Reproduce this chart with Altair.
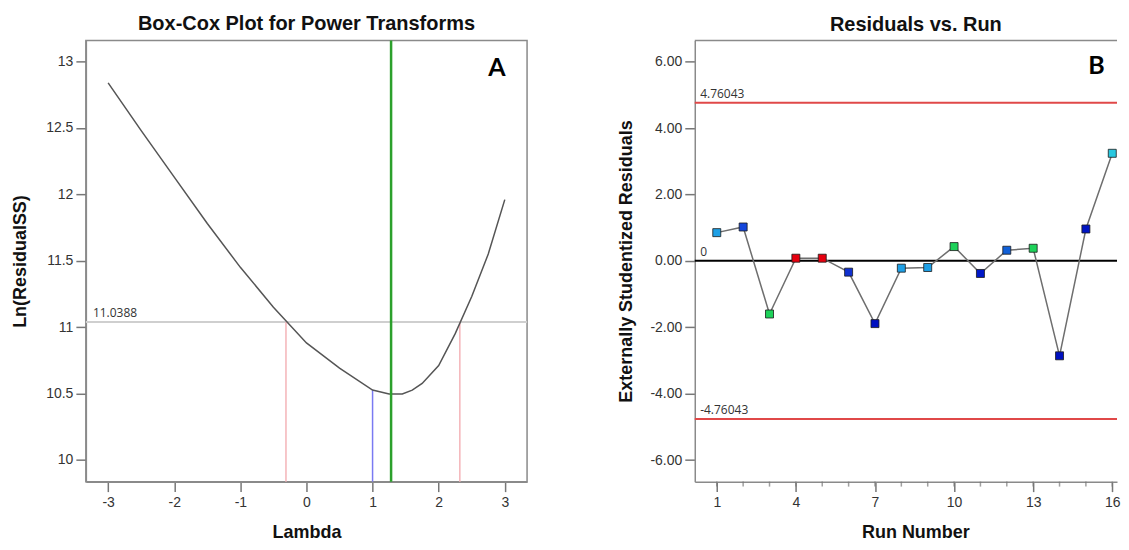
import altair as alt
import pandas as pd

# ---------------- data ----------------
# Panel A: Box-Cox curve
lam = [-3, -2.5, -2, -1.5, -1, -0.5, 0, 0.5, 1, 1.25, 1.45, 1.6, 1.75, 2, 2.25, 2.5, 2.75, 3]
ln_ss = [12.84, 12.48, 12.13, 11.78, 11.45, 11.15, 10.88, 10.69, 10.525, 10.495, 10.495,
         10.525, 10.575, 10.71, 10.95, 11.23, 11.55, 11.96]
ci_level = 11.0388
ci_bounds = [-0.31, 2.32]
lam_best = 1.28
lam_current = 1.0
ln_at_current = 10.525
lam_ticks = [-3, -2, -1, 0, 1, 2, 3]
ln_ticks = [10, 10.5, 11, 11.5, 12, 12.5, 13]

# Panel B: residuals vs run
runs = list(range(1, 17))
resid = [0.85, 1.02, -1.60, 0.08, 0.08, -0.34, -1.89, -0.22, -0.20, 0.43, -0.38,
         0.32, 0.38, -2.86, 0.96, 3.24]
point_colors = ["#1ea0e6", "#1446dc", "#1ed25a", "#e6000f", "#e6000f", "#1030d0",
                "#0010c0", "#1ea0e6", "#1ea0e6", "#1ed25a", "#0018c8", "#1060d8",
                "#1ed25a", "#0010c0", "#0014c4", "#28c8e0"]
limit = 4.76043
limit_labels = ["4.76043", "0", "-4.76043"]
limit_values = [limit, 0.0, -limit]
run_ticks = [1, 4, 7, 10, 13, 16]
resid_ticks = [-6, -4, -2, 0, 2, 4, 6]

# ---------------- styling ----------------
FONT = "Liberation Sans"
ANN_FONT = "Open Sans"
XDOM_A = [-3.337, 3.337]
YDOM_A = [9.835, 13.16]
XDOM_B = [0.165, 16.18]
YDOM_B = [-6.65, 6.64]
H = 442
W_A = 442
W_B = 423
HYPHEN = "replace(datum.label, '\u2212', '-')"


def ax(**kw):
    return alt.Axis(labelFont=FONT, labelFontSize=14, labelColor="#333333",
                    titleFont=FONT, titleFontSize=18, titleFontWeight="bold",
                    titleColor="#111111", tickColor="#777777", tickWidth=1.5,
                    domainColor="#8a8a8a", domainWidth=1.5, grid=False,
                    labelExpr=HYPHEN, **kw)


# ---------------- Panel A ----------------
xA = alt.X("x:Q", scale=alt.Scale(domain=XDOM_A, nice=False, zero=False),
           axis=ax(values=lam_ticks, title="Lambda", tickSize=10, labelPadding=4,
                   titlePadding=14, format="d"))
yA = alt.Y("y:Q", scale=alt.Scale(domain=YDOM_A, nice=False, zero=False),
           axis=ax(values=ln_ticks, title="Ln(ResidualSS)", tickSize=10, labelPadding=3,
                   titlePadding=16, format="~g"))

curve = alt.Chart(pd.DataFrame({"x": lam, "y": ln_ss})).mark_line(
    color="#555555", strokeWidth=1.5).encode(x=xA, y=yA)
hline = alt.Chart(pd.DataFrame({"y": [ci_level]})).mark_rule(
    color="#cfcfcf", strokeWidth=2).encode(y="y:Q")
red = alt.Chart(pd.DataFrame({"x": ci_bounds, "y": [YDOM_A[0]] * 2,
                              "y2": [ci_level] * 2})).mark_rule(
    color="#f4b4b8", strokeWidth=1.5).encode(x="x:Q", y="y:Q", y2="y2:Q")
blue = alt.Chart(pd.DataFrame({"x": [lam_current], "y": [YDOM_A[0]],
                               "y2": [ln_at_current]})).mark_rule(
    color="#7a7af2", strokeWidth=1.5).encode(x="x:Q", y="y:Q", y2="y2:Q")
green = alt.Chart(pd.DataFrame({"x": [lam_best]})).mark_rule(
    color="#2ca02c", strokeWidth=2.5).encode(x="x:Q")
ci_text = alt.Chart(pd.DataFrame({"x": [-3.23], "y": [ci_level], "t": ["11.0388"]})).mark_text(
    font=ANN_FONT, fontSize=12, color="#333333", align="left", baseline="bottom", dy=-2
).encode(x="x:Q", y="y:Q", text="t:N")
letter_a = alt.Chart(pd.DataFrame({"x": [2.88], "y": [12.95], "t": ["A"]})).mark_text(
    font="Lato", fontSize=25, fontWeight="bold", color="#000000", align="center",
    baseline="middle").encode(x="x:Q", y="y:Q", text="t:N")

panel_a = alt.layer(hline, red, blue, curve, green, ci_text, letter_a).properties(
    width=W_A, height=H,
    title=alt.Title("Box-Cox Plot for Power Transforms", font=FONT, fontSize=20,
                    fontWeight="bold", color="#111111", offset=5))

# ---------------- Panel B ----------------
xB = alt.X("x:Q", scale=alt.Scale(domain=XDOM_B, nice=False, zero=False),
           axis=ax(values=run_ticks, title="Run Number", tickSize=10, labelPadding=4,
                   titlePadding=14, format="d", titleX=221))
yB = alt.Y("y:Q", scale=alt.Scale(domain=YDOM_B, nice=False, zero=False),
           axis=ax(values=resid_ticks, title="Externally Studentized Residuals",
                   tickSize=10, labelPadding=3, titlePadding=14, format=".2f"))

res_df = pd.DataFrame({"x": runs, "y": resid, "c": point_colors})

limits = alt.Chart(pd.DataFrame({"y": [limit, -limit]})).mark_rule(
    color="#e04848", strokeWidth=2).encode(y="y:Q")
zero = alt.Chart(pd.DataFrame({"y": [0.0]})).mark_rule(
    color="#000000", strokeWidth=2).encode(y="y:Q")
top_border = alt.Chart(pd.DataFrame({"y": [YDOM_B[1]]})).mark_rule(
    color="#8a8a8a", strokeWidth=1.5).encode(y="y:Q")
minor = alt.Chart(pd.DataFrame({"x": runs, "y": [YDOM_B[0] - 0.075] * len(runs)})).mark_tick(
    orient="vertical", size=5, thickness=1.5, color="#777777").encode(x="x:Q", y="y:Q")
conn = alt.Chart(res_df).mark_line(color="#6e6e6e", strokeWidth=1.5).encode(x=xB, y=yB)
pts = alt.Chart(res_df).mark_square(size=64, stroke="#1a1a1a", strokeWidth=0.8,
                                     opacity=1).encode(
    x="x:Q", y="y:Q", fill=alt.Fill("c:N", scale=None))
lim_text = alt.Chart(pd.DataFrame({"x": [0.37] * 3, "y": limit_values, "t": limit_labels})).mark_text(
    font=ANN_FONT, fontSize=12, color="#333333", align="left", baseline="bottom", dy=-2
).encode(x="x:Q", y="y:Q", text="t:N")
letter_b = alt.Chart(pd.DataFrame({"x": [15.4], "y": [5.88], "t": ["B"]})).mark_text(
    font="Lato", fontSize=25, fontWeight="bold", color="#000000", align="center",
    baseline="middle").encode(x="x:Q", y="y:Q", text="t:N")

panel_b = alt.layer(limits, zero, top_border, minor, conn, pts, lim_text, letter_b).properties(
    width=W_B, height=H, view=alt.ViewBackground(stroke="transparent"),
    title=alt.Title("Residuals vs. Run", font=FONT, fontSize=20, fontWeight="bold",
                    color="#111111", offset=5, dx=10))

chart = alt.hconcat(panel_a, panel_b, spacing=88).properties(
    padding={"left": 3, "top": 5, "right": 0, "bottom": 0}
).configure_view(stroke="#8a8a8a", strokeWidth=1.5)

chart.save("out.html", embed_options={"renderer": "svg", "actions": False})
